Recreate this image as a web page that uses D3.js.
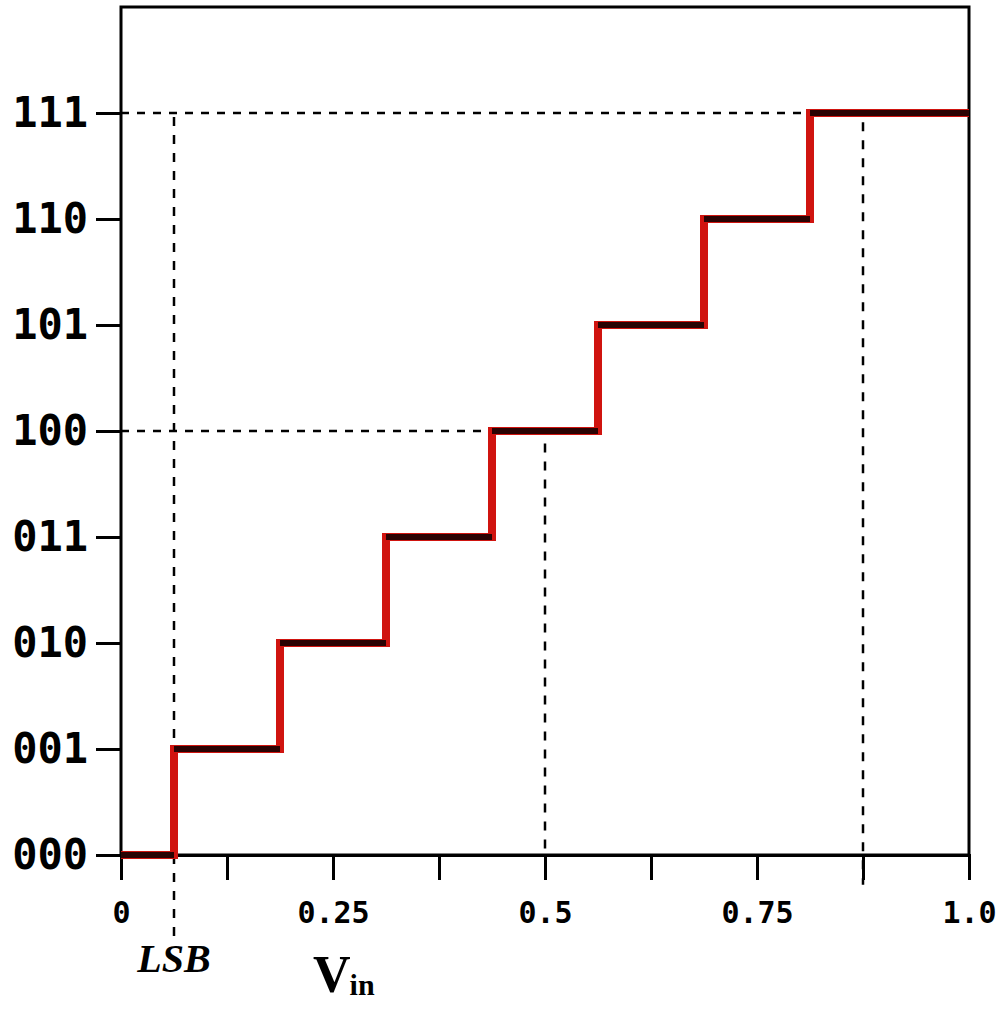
<!DOCTYPE html>
<html>
<head>
<meta charset="utf-8">
<script src="https://cdn.jsdelivr.net/npm/d3@7"></script>
<style>
  body { margin: 0; background: #fff; }
  svg { display: block; }
</style>
</head>
<body>
<div id="chart"></div>
<script>
// output codes of the 3-bit converter
var codes = ["000", "001", "010", "011", "100", "101", "110", "111"];
// input voltage where the output code steps up
var transitions = [0.0625, 0.1875, 0.3125, 0.4375, 0.5625, 0.6875, 0.8125];
// x axis ticks and labels
var xTicks = [0, 0.125, 0.25, 0.375, 0.5, 0.625, 0.75, 0.875, 1.0];
var xTickLabels = ["0", "", "0.25", "", "0.5", "", "0.75", "", "1.0"];
// dashed helper lines: [x, code index]
var hGuides = [[0.8125, 7], [0.4375, 4]];
var vGuides = [[0.0625, 7, -0.78], [0.5, 3.92, 0], [0.875, 6.95, -0.28]];

var width = 1000, height = 1009;

var svg = d3.select("#chart")
  .append("svg")
  .attr("width", width)
  .attr("height", height);

var x = d3.scaleLinear().domain([0, 1]).range([121, 969]);
var y = d3.scaleLinear().domain([0, 8]).range([855, 7]);

// build step points from the transitions
var steps = [[0, 0]];
transitions.forEach(function(t, i) {
  steps.push([t, i]);
  steps.push([t, i + 1]);
});
steps.push([1, codes.length - 1]);

// dashed guides
hGuides.forEach(function(g) {
  svg.append("line")
    .attr("x1", x(0)).attr("x2", x(g[0]))
    .attr("y1", y(g[1])).attr("y2", y(g[1]))
    .attr("stroke", "#000").attr("stroke-width", 2.5)
    .attr("stroke-dasharray", "8,8");
});
vGuides.forEach(function(g) {
  svg.append("line")
    .attr("x1", x(g[0])).attr("x2", x(g[0]))
    .attr("y1", y(g[1]) + 4).attr("y2", y(g[2]))
    .attr("stroke", "#000").attr("stroke-width", 2.5)
    .attr("stroke-dasharray", "9,9");
});

// frame
svg.append("rect")
  .attr("x", x(0)).attr("y", y(8))
  .attr("width", x(1) - x(0)).attr("height", y(0) - y(8))
  .attr("fill", "none").attr("stroke", "#000").attr("stroke-width", 3);

// x axis
var xAxis = svg.append("g")
  .attr("transform", "translate(0," + y(0) + ")")
  .call(d3.axisBottom(x)
    .tickValues(xTicks)
    .tickSize(25)
    .tickPadding(22)
    .tickFormat(function(d, i) { return xTickLabels[i]; }));
xAxis.select(".domain").attr("stroke-width", 3);
xAxis.selectAll(".tick line").attr("stroke-width", 3);
xAxis.selectAll("text")
  .attr("font-family", "DejaVu Sans Mono")
  .attr("font-weight", "bold")
  .attr("font-size", 30)
  .attr("fill", "#000");

// y axis
var yAxis = svg.append("g")
  .attr("transform", "translate(" + x(0) + ",0)")
  .call(d3.axisLeft(y)
    .tickValues(d3.range(codes.length))
    .tickSize(25)
    .tickPadding(8)
    .tickFormat(function(d) { return codes[d]; }));
yAxis.select(".domain").remove();
yAxis.selectAll(".tick line").attr("stroke-width", 3);
yAxis.selectAll("text")
  .attr("font-family", "DejaVu Sans Mono")
  .attr("font-weight", "bold")
  .attr("font-size", 42)
  .attr("fill", "#000");

// staircase: red body, dark treads
var line = d3.line()
  .x(function(d) { return x(d[0]); })
  .y(function(d) { return y(d[1]); });

svg.append("path")
  .datum(steps)
  .attr("d", line)
  .attr("fill", "none")
  .attr("stroke", "#d0140f")
  .attr("stroke-width", 8)
  .attr("stroke-linejoin", "miter");

var treads = [];
for (var i = 0; i < steps.length; i += 2) {
  treads.push([steps[i], steps[i + 1]]);
}
svg.selectAll(".tread")
  .data(treads)
  .enter().append("path")
  .attr("class", "tread")
  .attr("d", line)
  .attr("fill", "none")
  .attr("stroke", "#2a0303")
  .attr("stroke-width", 6);

// labels
svg.append("text")
  .attr("x", x(0.0625))
  .attr("y", 972)
  .attr("text-anchor", "middle")
  .attr("font-family", "Liberation Serif")
  .attr("font-style", "italic")
  .attr("font-weight", "bold")
  .attr("font-size", 40)
  .text("LSB");

var vin = svg.append("text")
  .attr("x", 313)
  .attr("y", 992)
  .attr("font-family", "Liberation Serif")
  .attr("font-weight", "bold")
  .attr("font-size", 52);
vin.append("tspan").text("V");
vin.append("tspan").attr("font-size", 30).attr("dx", -1).attr("dy", 3).text("in");
</script>
</body>
</html>
